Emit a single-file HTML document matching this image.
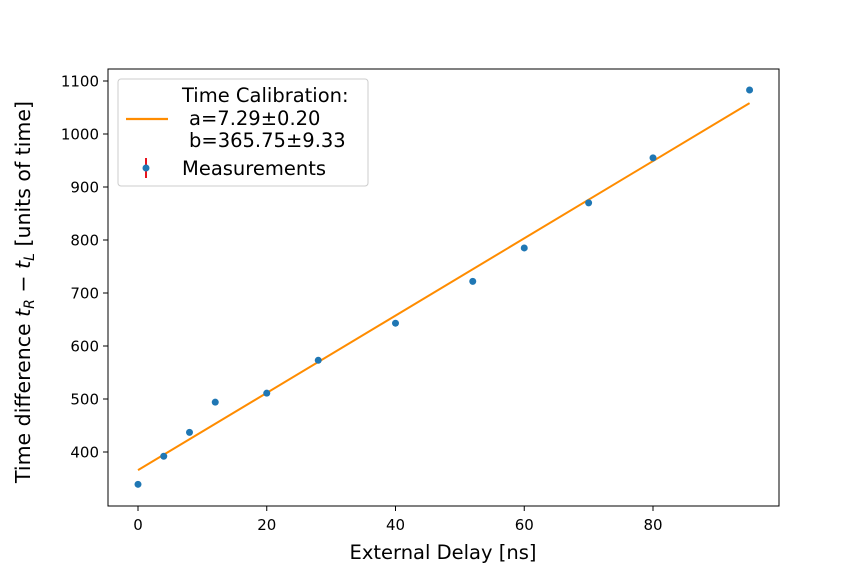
<!DOCTYPE html>
<html><head><meta charset="utf-8"><style>body{margin:0;background:#fff}svg{display:block}text{font-family:"DejaVu Sans","Liberation Sans",sans-serif;fill:#000}</style></head>
<body>
<svg id="chart" width="864" height="576" viewBox="0 0 864 576">
<rect x="0" y="0" width="864" height="576" fill="#fff"/>
<g id="plot"></g>
<rect x="108" y="69" width="671" height="437" fill="none" stroke="#000" stroke-width="1"/>
<g id="xticks"></g>
<g id="yticks"></g>
<text x="443" y="559" font-size="19.5" text-anchor="middle">External Delay [ns]</text>
<text transform="translate(30,292) rotate(-90)" font-size="20.5" text-anchor="middle">Time difference <tspan font-style="italic">t</tspan><tspan font-size="14" font-style="italic" dy="4">R</tspan><tspan dy="-4"> − </tspan><tspan font-style="italic">t</tspan><tspan font-size="14" font-style="italic" dy="4">L</tspan><tspan dy="-4"> [units of time]</tspan></text>
<g>
<rect x="118" y="79" width="250" height="107" rx="3" fill="#fff" fill-opacity="0.8" stroke="#ccc"/>
<line x1="126" y1="119" x2="168" y2="119" stroke="#ff8c00" stroke-width="2.2"/>
<text x="182" y="102" font-size="19.5">Time Calibration:</text>
<text x="189" y="125" font-size="19.5">a=7.29±0.20</text>
<text x="189" y="147" font-size="19.5">b=365.75±9.33</text>
<line x1="146" y1="158" x2="146" y2="178" stroke="#e8141e" stroke-width="2"/>
<circle cx="146" cy="168" r="3.5" fill="#1f77b4"/>
<text x="182" y="175" font-size="19.5">Measurements</text>
</g>
</svg>
<script>
const xValues=[0,4,8,12,20,28,40,52,60,70,80,95];
const yValues=[339,392,437,494,511,573,643,722,785,870,955,1083];
const fitA=7.29;
const fitB=365.75;
const xTickLabels=[0,20,40,60,80];
const yTickLabels=[400,500,600,700,800,900,1000,1100];
const NS="http://www.w3.org/2000/svg";
function sx(v){return 138+v*(653-138)/80;}
function sy(v){return 452-(v-400)*(452-81)/700;}
function mk(tag,attrs,parent){const e=document.createElementNS(NS,tag);for(const k in attrs)e.setAttribute(k,attrs[k]);parent.appendChild(e);return e;}
const plot=document.getElementById('plot');
const xmin=Math.min(...xValues),xmax=Math.max(...xValues);
const fl=mk('line',{x1:sx(xmin),y1:sy(fitA*xmin+fitB),x2:sx(xmax),y2:sy(fitA*xmax+fitB),stroke:'#ff8c00','stroke-width':2},plot);


xValues.forEach((x,i)=>{const c=mk('circle',{cx:sx(x),cy:sy(yValues[i]),r:3.5,fill:'#1f77b4'},plot);

});
const xg=document.getElementById('xticks');
xTickLabels.forEach(v=>{const l=mk('line',{x1:sx(v),y1:506,x2:sx(v),y2:511,stroke:'#000'},xg);


const t=mk('text',{x:sx(v),y:530,'font-size':15,'text-anchor':'middle'},xg);t.textContent=v;

});
const yg=document.getElementById('yticks');
yTickLabels.forEach(v=>{const l=mk('line',{x1:103,y1:sy(v),x2:108,y2:sy(v),stroke:'#000'},yg);


const t=mk('text',{x:99,y:sy(v)+5.5,'font-size':15,'text-anchor':'end'},yg);t.textContent=v;

});
</script>
</body></html>
